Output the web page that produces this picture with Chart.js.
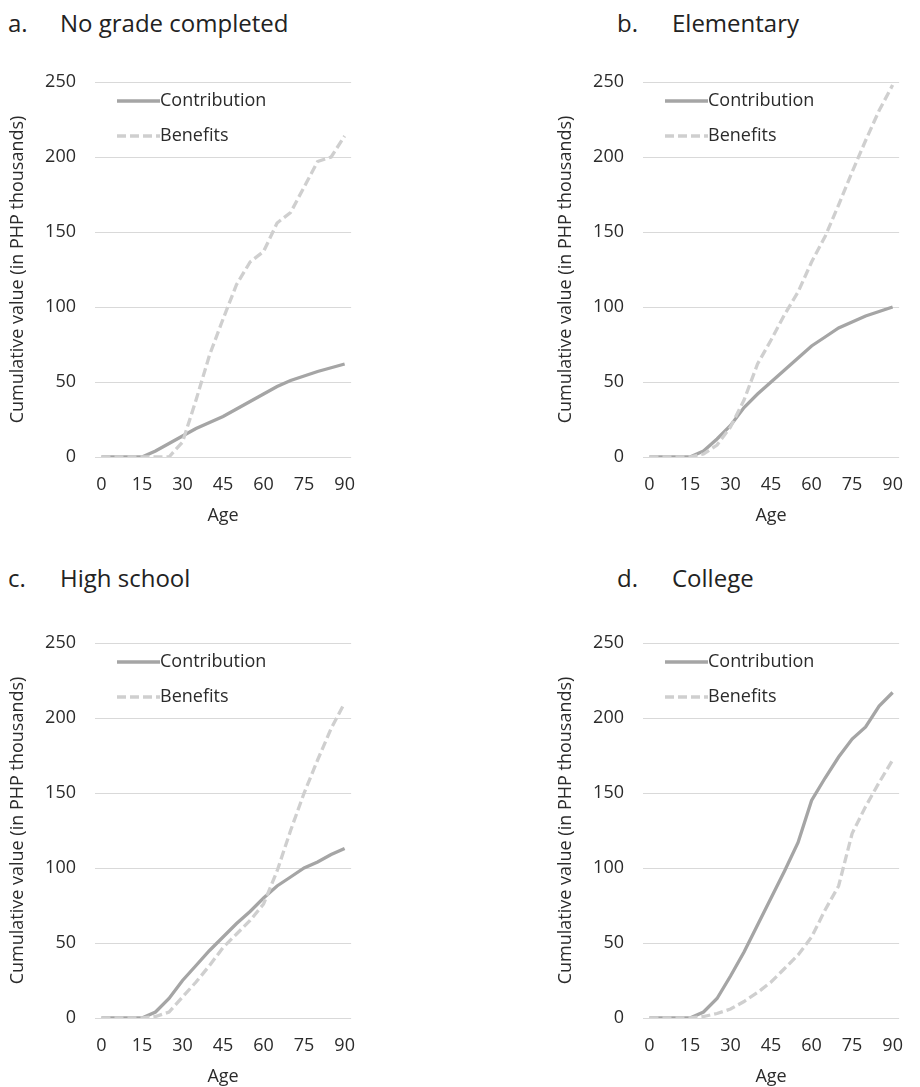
<!DOCTYPE html>
<html>
<head>
<meta charset="utf-8">
<script src="https://cdn.jsdelivr.net/npm/chart.js@4.4.1/dist/chart.umd.min.js"></script>
<style>
  html, body { margin: 0; padding: 0; background: #fff; }
  body { width: 920px; height: 1087px; overflow: hidden; position: relative; font-family: "Open Sans", sans-serif; }
  .panel { position: absolute; width: 372px; height: 540px; }
  .ttl { position: absolute; font-size: 24px; line-height: 24px; color: #222; white-space: nowrap; }
  .ttl span { position: absolute; top: 0; }
</style>
</head>
<body>
<div class="ttl" style="left:8px;top:11px"><span>a.</span><span style="left:52px">No grade completed</span></div>
<div class="ttl" style="left:617px;top:11px"><span>b.</span><span style="left:55px">Elementary</span></div>
<div class="ttl" style="left:8px;top:566px"><span>c.</span><span style="left:52px">High school</span></div>
<div class="ttl" style="left:617px;top:566px"><span>d.</span><span style="left:55px">College</span></div>

<div class="panel" style="left:0;top:0"><canvas id="chartA"></canvas></div>
<div class="panel" style="left:548px;top:0"><canvas id="chartB"></canvas></div>
<div class="panel" style="left:0;top:561px"><canvas id="chartC"></canvas></div>
<div class="panel" style="left:548px;top:561px"><canvas id="chartD"></canvas></div>

<script>
// ages, every 5 years
const ages = [0, 5, 10, 15, 20, 25, 30, 35, 40, 45, 50, 55, 60, 65, 70, 75, 80, 85, 90];
const ageTicks = [0, 15, 30, 45, 60, 75, 90];
const valueTicks = [0, 50, 100, 150, 200, 250];

// a. No grade completed
const contribNoGrade = [0, 0, 0, 0, 4, 9, 14, 19, 23, 27, 32, 37, 42, 47, 51, 54, 57, 59.5, 62];
const benefitsNoGrade = [0, 0, 0, 0, 0, 0, 10, 38, 68, 92, 115, 130, 137, 156, 163, 180, 197, 200, 214];

// b. Elementary
const contribElementary = [0, 0, 0, 0, 4, 12, 21, 33, 42, 50, 58, 66, 74, 80, 86, 90, 94, 97, 100];
const benefitsElementary = [0, 0, 0, 0, 2, 8, 20, 38, 62, 78, 95, 110, 130, 147, 168, 190, 211, 231, 248];

// c. High school
const contribHighSchool = [0, 0, 0, 0, 4, 13, 25, 35, 45, 54, 63, 71, 80, 88, 94, 100, 104, 109, 113];
const benefitsHighSchool = [0, 0, 0, 0, 1, 4, 14, 24, 35, 47, 56, 65, 76, 98, 125, 150, 172, 193, 210];

// d. College
const contribCollege = [0, 0, 0, 0, 4, 13, 28, 44, 62, 80, 98, 117, 145, 160, 174, 186, 194, 208, 217];
const benefitsCollege = [0, 0, 0, 0, 1, 3, 6, 11, 17, 24, 33, 42, 54, 72, 88, 123, 141, 157, 172];

const FONT = '"Open Sans", sans-serif';
const TEXT = '#2b2b2b';

// legend drawn inside the plot, top left
const insideLegend = {
  id: 'insideLegend',
  afterDraw(chart) {
    const { ctx, chartArea } = chart;
    const x0 = chartArea.left + 22, x1 = chartArea.left + 65;
    chart.data.datasets.forEach((ds, i) => {
      const y = chartArea.top + 19 + i * 35;
      ctx.save();
      ctx.strokeStyle = ds.borderColor;
      ctx.lineWidth = ds.borderWidth;
      ctx.setLineDash(ds.borderDash || []);
      ctx.beginPath();
      ctx.moveTo(x0, y);
      ctx.lineTo(x1, y);
      ctx.stroke();
      ctx.setLineDash([]);
      ctx.fillStyle = TEXT;
      ctx.font = '18px ' + FONT;
      ctx.textBaseline = 'middle';
      ctx.textAlign = 'left';
      ctx.fillText(ds.label, x1, y);
      ctx.restore();
    });
  }
};

function pts(arr) {
  return arr.map((v, i) => ({ x: ages[i], y: v }));
}

function makeChart(id, contrib, benefits) {
  new Chart(document.getElementById(id), {
    type: 'line',
    data: {
      datasets: [
        {
          label: 'Contribution',
          data: pts(contrib),
          borderColor: '#a5a5a5',
          borderWidth: 3.3,
          pointRadius: 0,
          tension: 0,
          order: 1,
        },
        {
          label: 'Benefits',
          data: pts(benefits),
          borderColor: '#cfcfcf',
          borderWidth: 3.3,
          borderDash: [9, 4],
          pointRadius: 0,
          tension: 0,
          order: 0,
        },
      ],
    },
    options: {
      responsive: false,
      animation: false,
      maintainAspectRatio: false,
      layout: { padding: { top: 82, right: 3, left: 0, bottom: 0 } },
      plugins: { legend: { display: false }, tooltip: { enabled: false } },
      scales: {
        x: {
          type: 'linear',
          min: -2.4,
          max: 92.4,
          afterBuildTicks: (s) => { s.ticks = ageTicks.map(v => ({ value: v })); },
          afterFit: (s) => { s.height = 83; },
          grid: { display: false, drawTicks: false },
          border: { display: false },
          ticks: { padding: 17, color: TEXT, font: { family: FONT, size: 18 } },
          title: { display: true, text: 'Age', color: TEXT, font: { family: FONT, size: 18 }, padding: { top: 0, bottom: 13 } },
        },
        y: {
          min: 0,
          max: 250,
          afterBuildTicks: (s) => { s.ticks = valueTicks.map(v => ({ value: v })); },
          afterFit: (s) => { s.width = 95; },
          grid: { color: '#d9d9d9', lineWidth: 1, drawTicks: false },
          border: { display: false },
          ticks: { padding: 19, color: TEXT, font: { family: FONT, size: 18 } },
          title: { display: true, text: 'Cumulative value (in PHP thousands)', color: TEXT, font: { family: FONT, size: 18 }, padding: { top: 7, bottom: 0 } },
        },
      },
    },
    plugins: [insideLegend],
  });
}

for (const id of ['chartA', 'chartB', 'chartC', 'chartD']) {
  const c = document.getElementById(id);
  c.width = 372;
  c.height = 540;
}

makeChart('chartA', contribNoGrade, benefitsNoGrade);
makeChart('chartB', contribElementary, benefitsElementary);
makeChart('chartC', contribHighSchool, benefitsHighSchool);
makeChart('chartD', contribCollege, benefitsCollege);
</script>
</body>
</html>
